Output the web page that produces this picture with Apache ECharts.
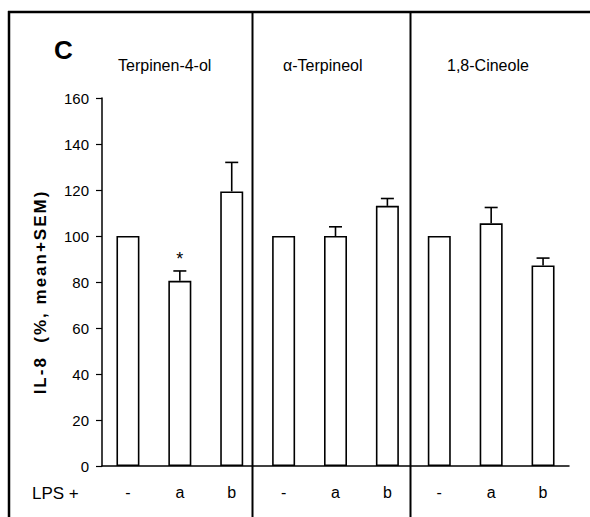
<!DOCTYPE html>
<html><head><meta charset="utf-8">
<script src="https://cdn.jsdelivr.net/npm/echarts@6/dist/echarts.min.js"></script>
<style>html,body{margin:0;padding:0;background:#fff}#c{width:590px;height:517px}</style>
</head><body><div id="c"></div>
<script>
const categories = ['-', 'a', 'b', '-', 'a', 'b', '-', 'a', 'b'];
const means = [100, 80.5, 119.4, 100, 100, 113.1, 100, 105.5, 87.2];
const sems = [0, 4.3, 12.6, 0, 4.0, 3.2, 0, 6.9, 3.2];
const marks = ['', '*', '', '', '', '', '', '', ''];
const groups = ['Terpinen-4-ol', '\u03b1-Terpineol', '1,8-Cineole'];
const groupLabelX = [118, 283, 447];
const dividerAt = [2.4, 5.44];
const panelLabel = 'C';
const yTitle = 'IL-8  (%, mean+SEM)';
const xPrefix = 'LPS +';
const yMin = 0, yMax = 160, yStep = 20;

const FONT = '"Liberation Sans", Arial, Helvetica, sans-serif';
const chart = echarts.init(document.getElementById('c'), null, { renderer: 'svg' });

const errData = means.map((m, i) => [i, m, m + sems[i]]);

const option = {
  animation: false,
  backgroundColor: '#fff',
  grid: { left: 102, right: 21, top: 98, bottom: 51 },
  xAxis: {
    type: 'category',
    data: categories,
    axisLine: { lineStyle: { color: '#000', width: 1.5 } },
    axisTick: { show: false },
    axisLabel: { color: '#000', fontSize: 16, fontFamily: FONT, margin: 18 }
  },
  yAxis: {
    type: 'value',
    min: yMin, max: yMax, interval: yStep,
    axisLine: { show: true, lineStyle: { color: '#000', width: 1.5 } },
    axisTick: { show: true, length: 6, lineStyle: { color: '#000', width: 1.2 } },
    splitLine: { show: false },
    axisLabel: { color: '#000', fontSize: 15, fontFamily: FONT, margin: 13 }
  },
  series: [
    {
      type: 'bar',
      data: means,
      barWidth: 23,
      itemStyle: { color: '#fff', borderColor: '#000', borderWidth: 1.6 },
      z: 2
    },
    {
      type: 'custom',
      data: errData,
      z: 3,
      renderItem: function (params, api) {
        const i = params.dataIndex;
        const base = api.coord([api.value(0), api.value(1)]);
        const top = api.coord([api.value(0), api.value(2)]);
        const children = [];
        if (sems[i] > 0) {
          children.push({ type: 'line', shape: { x1: base[0], y1: base[1], x2: top[0], y2: top[1] }, style: { stroke: '#000', lineWidth: 1.6 } });
          children.push({ type: 'line', shape: { x1: top[0] - 6.5, y1: top[1], x2: top[0] + 6.5, y2: top[1] }, style: { stroke: '#000', lineWidth: 1.6 } });
        }
        if (marks[i]) {
          children.push({ type: 'text', x: top[0], y: top[1] - 3, style: { text: marks[i], fill: '#000', font: '18px ' + FONT, align: 'center', verticalAlign: 'bottom' } });
        }
        return { type: 'group', children: children };
      }
    }
  ]
};
chart.setOption(option);

function px(idx) {
  const a = Math.floor(idx), f = idx - a;
  const p0 = chart.convertToPixel({ xAxisIndex: 0 }, a);
  const p1 = chart.convertToPixel({ xAxisIndex: 0 }, a + 1);
  return p0 + (p1 - p0) * f;
}

const graphics = [];
graphics.push({ type: 'line', shape: { x1: 8, y1: 12, x2: 590, y2: 12 }, style: { stroke: '#000', lineWidth: 2.5 } });
graphics.push({ type: 'line', shape: { x1: 9, y1: 11, x2: 9, y2: 517 }, style: { stroke: '#000', lineWidth: 2.5 } });
dividerAt.forEach(d => {
  const x = Math.round(px(d)) + 0.5;
  graphics.push({ type: 'line', shape: { x1: x, y1: 12, x2: x, y2: 517 }, style: { stroke: '#000', lineWidth: 2 } });
});
graphics.push({ type: 'text', x: 54, y: 50, style: { text: panelLabel, fill: '#000', font: 'bold 26px ' + FONT, align: 'left', verticalAlign: 'middle' } });
groups.forEach((g, k) => {
  graphics.push({ type: 'text', x: groupLabelX[k], y: 65, style: { text: g, fill: '#000', font: '16px ' + FONT, align: 'left', verticalAlign: 'middle' } });
});
graphics.push({ type: 'text', x: 40, y: 292, rotation: Math.PI / 2, style: { text: yTitle, fill: '#000', font: 'bold 17px ' + FONT, align: 'center', verticalAlign: 'middle' } });
graphics.push({ type: 'text', x: 32, y: 493, style: { text: xPrefix, fill: '#000', font: '17px ' + FONT, align: 'left', verticalAlign: 'middle' } });

chart.setOption({ graphic: graphics });

// widen the letter spacing of the axis title, as in the reference figure
document.querySelectorAll('#c text').forEach(t => {
  if (t.textContent === yTitle) t.setAttribute('letter-spacing', '2');
});
</script>
</body></html>
